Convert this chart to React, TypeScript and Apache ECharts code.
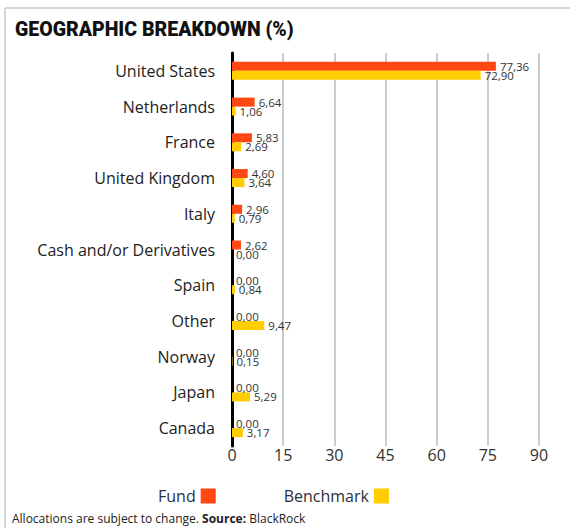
import React, { useEffect, useRef } from "react";
import * as echarts from "echarts";

const categories = [
  "United States",
  "Netherlands",
  "France",
  "United Kingdom",
  "Italy",
  "Cash and/or Derivatives",
  "Spain",
  "Other",
  "Norway",
  "Japan",
  "Canada",
];
const fundValues = [77.36, 6.64, 5.83, 4.6, 2.96, 2.62, 0, 0, 0, 0, 0];
const benchmarkValues = [72.9, 1.06, 2.69, 3.64, 0.79, 0, 0.84, 9.47, 0.15, 5.29, 3.17];
const xTicks = { min: 0, max: 90, interval: 15 };

const FONT = "'Open Sans', 'Noto Sans', sans-serif";

export default function App() {
  const ref = useRef<HTMLDivElement>(null);
  useEffect(() => {
    if (!ref.current) return;
    const chart = echarts.init(ref.current, null, { renderer: "svg" });
    const fmt = (p: any) => Number(p.value).toFixed(2).replace(".", ",");
    const labelCfg = {
      show: true,
      position: "right",
      distance: 4,
      fontSize: 11.5,
      color: "#333",
      fontFamily: FONT,
      formatter: fmt,
    };
    chart.setOption({
      animation: false,
      backgroundColor: "#fff",
      textStyle: { fontFamily: FONT },
      graphic: [
        {
          type: "line",
          shape: { x1: 5, y1: 8, x2: 570, y2: 8 },
          style: { stroke: "#c8c8c8", lineWidth: 1.5 },
        },
        {
          type: "line",
          shape: { x1: 5, y1: 8, x2: 5, y2: 528 },
          style: { stroke: "#c8c8c8", lineWidth: 1.5 },
        },
        {
          type: "text",
          left: 15,
          top: 19,
          style: {
            text: "GEOGRAPHIC BREAKDOWN (%)",
            fontSize: 19.5,
            fontWeight: 900,
            fontFamily: "Roboto, 'Open Sans', sans-serif",
            fill: "#111",
          },
        },
        {
          type: "text",
          left: 12,
          top: 512,
          style: {
            text: "{a|Allocations are subject to change. }{b|Source:}{a| BlackRock}",
            rich: {
              a: { fontSize: 12, fontFamily: FONT, fill: "#222", color: "#222" },
              b: { fontSize: 12, fontFamily: FONT, fontWeight: "bold", fill: "#222", color: "#222" },
            },
          },
        },
      ],
      legend: {
        left: 153,
        top: 483,
        align: "right",
        itemWidth: 15,
        itemHeight: 15,
        itemGap: 68,
        icon: "rect",
        textStyle: { fontSize: 16, color: "#2a2f3a", fontFamily: FONT },
        data: ["Fund", "Benchmark"],
      },
      grid: { left: 232, right: 31, top: 53, bottom: 82, containLabel: false },
      xAxis: {
        type: "value",
        min: xTicks.min,
        max: xTicks.max,
        interval: xTicks.interval,
        axisLine: { show: false },
        axisTick: { show: false },
        splitLine: { show: true, lineStyle: { color: "#cccccc", width: 2 } },
        axisLabel: { fontSize: 16, color: "#333", margin: 1, fontFamily: FONT },
      },
      yAxis: {
        type: "category",
        inverse: true,
        data: categories,
        axisLine: { show: true, lineStyle: { color: "#000", width: 3 } },
        axisTick: { show: false },
        axisLabel: { fontSize: 16, color: "#222", margin: 17, fontFamily: FONT },
      },
      series: [
        {
          name: "Fund",
          type: "bar",
          data: fundValues,
          barWidth: 9,
          barGap: "0%",
          itemStyle: { color: "#FF4713" },
          label: labelCfg,
        },
        {
          name: "Benchmark",
          type: "bar",
          data: benchmarkValues,
          barWidth: 9,
          barGap: "0%",
          itemStyle: { color: "#FFCD00" },
          label: labelCfg,
        },
      ],
    });
    return () => chart.dispose();
  }, []);
  return (
    <div
      ref={ref}
      style={{ position: "fixed", left: 0, top: 0, width: 570, height: 528 }}
    />
  );
}
